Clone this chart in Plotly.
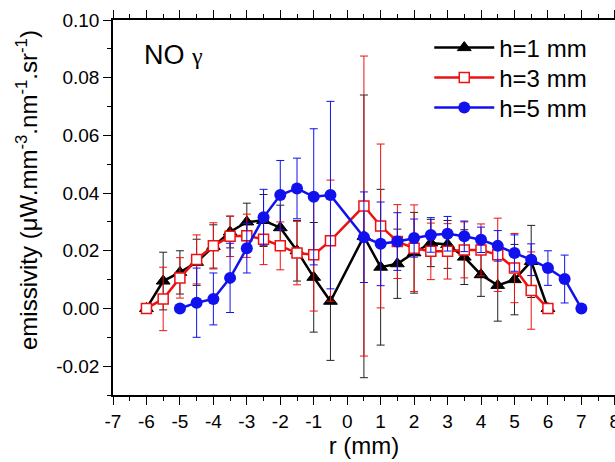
import plotly.graph_objects as go

# ---- data ----
r_h1 = [-6, -5.5, -5, -4.5, -4, -3.5, -3, -2.5, -2, -1.5, -1, -0.5,
        0.5, 1, 1.5, 2, 2.5, 3, 3.5, 4, 4.5, 5, 5.5, 6]
e_h1 = [0.000, 0.0095, 0.0125, 0.016, 0.0215, 0.0265, 0.030, 0.0305, 0.028, 0.020, 0.0108, 0.0025,
        0.025, 0.0143, 0.0155, 0.0193, 0.0227, 0.0222, 0.0178, 0.0117, 0.0080, 0.0100, 0.0163, 0.000]
err_h1 = [0.0, 0.010, 0.0075, 0.008, 0.0075, 0.0055, 0.0065, 0.009, 0.0078, 0.0105, 0.019, 0.0205,
          0.049, 0.027, 0.012, 0.014, 0.0082, 0.0083, 0.0095, 0.0075, 0.0124, 0.0122, 0.0125, 0.0]

r_h3 = [-6, -5.5, -5, -4.5, -4, -3.5, -3, -2.5, -2, -1.5, -1, -0.5,
        0.5, 1, 1.5, 2, 2.5, 3, 3.5, 4, 4.5, 5, 5.5, 6]
e_h3 = [0.000, 0.0033, 0.0106, 0.017, 0.0217, 0.025, 0.0252, 0.024, 0.0217, 0.0192, 0.0186, 0.0235,
        0.0355, 0.0286, 0.0232, 0.0209, 0.0198, 0.0198, 0.0203, 0.0203, 0.0186, 0.014, 0.0062, 0.000]
err_h3 = [0.0, 0.011, 0.007, 0.0085, 0.008, 0.007, 0.0075, 0.0088, 0.0083, 0.011, 0.0195, 0.021,
          0.052, 0.0284, 0.0128, 0.015, 0.0098, 0.0096, 0.0097, 0.009, 0.0127, 0.012, 0.0134, 0.0]

r_h5 = [-5, -4.5, -4, -3.5, -3, -2.5, -2, -1.5, -1, -0.5,
        0.5, 1, 1.5, 2, 2.5, 3, 3.5, 4, 4.5, 5, 5.5, 6, 6.5, 7]
e_h5 = [0.000, 0.002, 0.0033, 0.0106, 0.0209, 0.0316, 0.0393, 0.0416, 0.0387, 0.0393,
        0.0247, 0.0224, 0.0232, 0.0244, 0.0255, 0.0259, 0.025, 0.0238, 0.0217, 0.0192, 0.0169, 0.014, 0.0102, 0.000]
err_h5 = [0.0, 0.012, 0.009, 0.012, 0.0086, 0.0097, 0.012, 0.0105, 0.0236, 0.0325,
          0.0157, 0.0145, 0.010, 0.0066, 0.006, 0.006, 0.0053, 0.0044, 0.0053, 0.0063, 0.0055, 0.006, 0.0083, 0.0]

x_tickvals = [-7, -6, -5, -4, -3, -2, -1, 0, 1, 2, 3, 4, 5, 6, 7, 8]
x_ticktext = ["-7", "-6", "-5", "-4", "-3", "-2", "-1", "0", "1", "2", "3", "4", "5", "6", "7", "8"]
y_tickvals = [-0.02, 0.00, 0.02, 0.04, 0.06, 0.08, 0.10]
y_ticktext = ["-0.02", "0.00", "0.02", "0.04", "0.06", "0.08", "0.10"]

FONT = "Liberation Sans, Arial, sans-serif"

fig = go.Figure()

fig.add_trace(go.Scatter(
    x=r_h1, y=e_h1, name="h=1 mm", mode="lines+markers", legend="legend",
    line=dict(color="black", width=2.5),
    marker=dict(symbol="triangle-up", size=12, color="black", line=dict(color="black", width=1)),
    error_y=dict(type="data", array=err_h1, visible=True, color="#222222", thickness=1, width=4),
))
fig.add_trace(go.Scatter(
    x=r_h3, y=e_h3, name="h=3 mm", mode="lines+markers", legend="legend2",
    line=dict(color="#ee1111", width=2.5),
    marker=dict(symbol="square", size=10, color="white", line=dict(color="#ee1111", width=1.5)),
    error_y=dict(type="data", array=err_h3, visible=True, color="#ee1111", thickness=1, width=4),
))
fig.add_trace(go.Scatter(
    x=r_h5, y=e_h5, name="h=5 mm", mode="lines+markers", legend="legend3",
    line=dict(color="#1111ee", width=2.5),
    marker=dict(symbol="circle", size=12, color="#1111ee", line=dict(color="#1111ee", width=0)),
    error_y=dict(type="data", array=err_h5, visible=True, color="#1111ee", thickness=1, width=4),
))

axis_common = dict(
    showline=True, linecolor="black", linewidth=1.5, mirror="allticks",
    ticks="outside", ticklen=8, tickwidth=1.2, tickcolor="black",
    showgrid=False, zeroline=False, ticklabeloverflow="allow",
    tickfont=dict(family=FONT, size=19, color="black"),
)

fig.update_xaxes(
    range=[-7, 8.005], tickmode="array", tickvals=x_tickvals, ticktext=x_ticktext,
    minor=dict(tick0=-7, dtick=0.5, ticks="outside", ticklen=4, tickwidth=1.2, tickcolor="black", showgrid=False),
    title=dict(text="r (mm)", font=dict(family=FONT, size=24, color="black"), standoff=4),
    **axis_common,
)
fig.update_yaxes(
    range=[-0.03, 0.10], tickmode="array", tickvals=y_tickvals, ticktext=y_ticktext,
    minor=dict(tick0=0, dtick=0.01, ticks="outside", ticklen=4, tickwidth=1.2, tickcolor="black", showgrid=False),
    **axis_common,
)

# y-axis title (placed as annotation so its position along the axis matches)
fig.add_annotation(
    xref="paper", yref="paper", x=-0.171, y=0.547, xanchor="center", yanchor="middle",
    textangle=-90, showarrow=False,
    text="emissivity (\u03bcW.mm<sup>-3</sup>.nm<sup>-1</sup>.sr<sup>-1</sup>)",
    font=dict(family=FONT, size=24, color="black"),
)

fig.add_annotation(
    xref="paper", yref="paper", x=0.058, y=0.907, xanchor="left", yanchor="middle",
    text="NO <span style='font-family:Liberation Serif, serif; font-size:24px'>\u03b3</span>",
    showarrow=False, font=dict(family=FONT, size=27, color="black"),
)

leg_common = dict(x=0.63, xanchor="left", yanchor="middle",
                  font=dict(family=FONT, size=24, color="black"),
                  bgcolor="rgba(0,0,0,0)", itemwidth=60)

fig.update_layout(
    width=615, height=462,
    margin=dict(l=113, r=0, t=20, b=67, autoexpand=False),
    paper_bgcolor="white", plot_bgcolor="white",
    showlegend=True,
    legend=dict(y=0.9253, **leg_common),
    legend2=dict(y=0.8453, **leg_common),
    legend3=dict(y=0.7653, **leg_common),
    font=dict(family=FONT),
)

fig.write_html("out.html", config={"displayModeBar": False},
               post_script="document.body.style.margin='0px';")
